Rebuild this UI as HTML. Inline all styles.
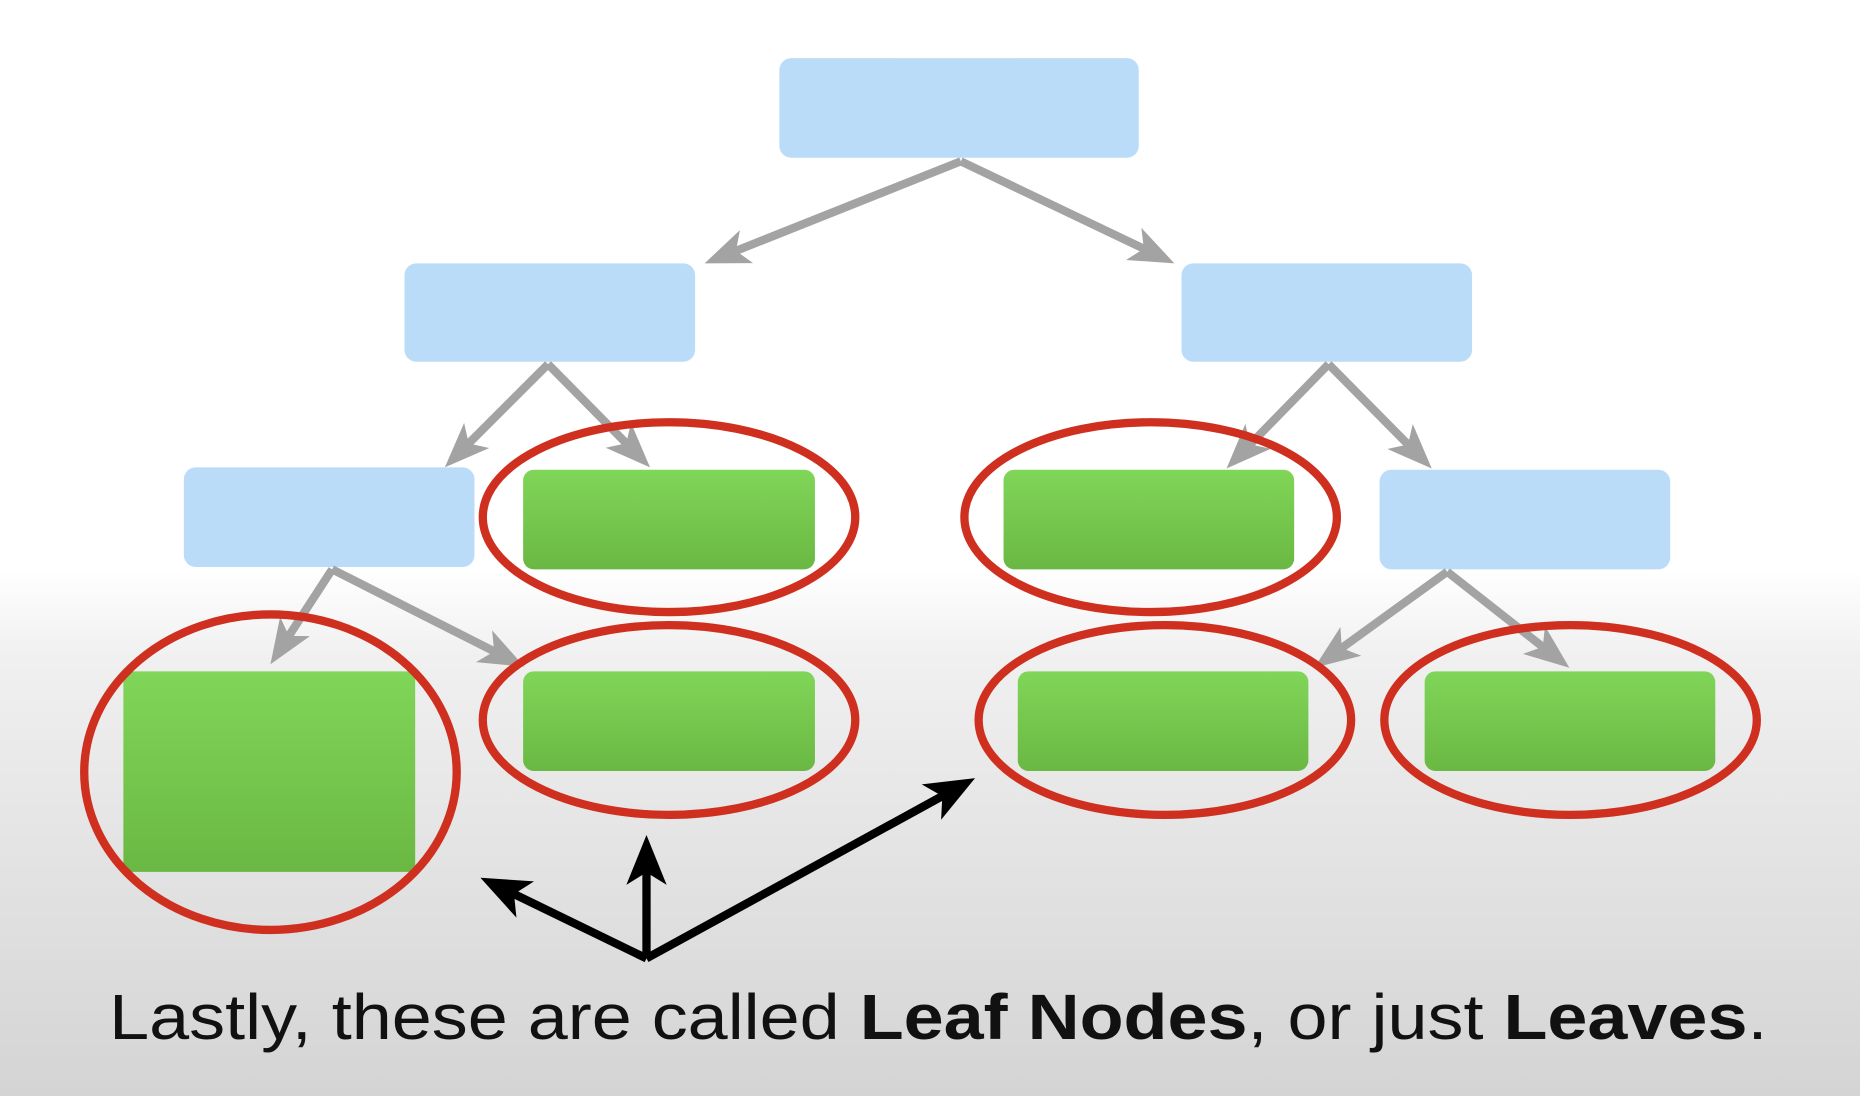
<!DOCTYPE html>
<html><head><meta charset="utf-8"><style>
html,body{margin:0;padding:0;width:1860px;height:1096px;overflow:hidden;}
svg{display:block}
</style></head><body>
<svg id="s" width="1860" height="1096" viewBox="0 0 1568 924" preserveAspectRatio="none" xmlns="http://www.w3.org/2000/svg">
<defs>
<linearGradient id="bg" x1="0" y1="0" x2="0" y2="1">
<stop offset="0" stop-color="#ffffff"/>
<stop offset="0.52" stop-color="#ffffff"/>
<stop offset="0.6" stop-color="#f0f0f0"/>
<stop offset="1" stop-color="#d4d4d4"/>
</linearGradient>
<linearGradient id="gr" x1="0" y1="0" x2="0" y2="1">
<stop offset="0" stop-color="#80d658"/>
<stop offset="1" stop-color="#6ab843"/>
</linearGradient>
</defs>
<rect width="1568" height="924" fill="url(#bg)"/>
<g fill="#bbdcf9">
<rect x="657" y="49" width="303" height="84" rx="10"/>
<rect x="341" y="222" width="245" height="83" rx="10"/>
<rect x="996" y="222" width="245" height="83" rx="10"/>
<rect x="155" y="394" width="245" height="84" rx="10"/>
<rect x="1163" y="396" width="245" height="84" rx="10"/>
</g>
<g fill="url(#gr)">
<rect x="441" y="396" width="246" height="84" rx="9"/>
<rect x="846" y="396" width="245" height="84" rx="9"/>
<rect x="104" y="566" width="246" height="169" rx="4"/>
<rect x="441" y="566" width="246" height="84" rx="9"/>
<rect x="858" y="566" width="245" height="84" rx="9"/>
<rect x="1201" y="566" width="245" height="84" rx="9"/>
</g>
<g id="arr"></g>
<g stroke="#cf2f1f" stroke-width="7" fill="none">
<ellipse cx="564" cy="436" rx="157" ry="80"/>
<ellipse cx="970" cy="436" rx="157" ry="80"/>
<ellipse cx="228" cy="651" rx="157" ry="133"/>
<ellipse cx="564" cy="607" rx="157" ry="80"/>
<ellipse cx="982" cy="607" rx="157" ry="80"/>
<ellipse cx="1324" cy="607" rx="157" ry="80"/>
</g>
<g id="arr2"></g>
<text x="92" y="876" font-family="Liberation Sans, sans-serif" font-size="54" fill="#111" textLength="1398" lengthAdjust="spacingAndGlyphs">Lastly, these are called <tspan font-weight="bold">Leaf Nodes</tspan>, or just <tspan font-weight="bold">Leaves</tspan>.</text>
</svg>
<script>
function arrow(g,x1,y1,x2,y2,col,w,L,H){
 var dx=x2-x1,dy=y2-y1,d=Math.hypot(dx,dy),ux=dx/d,uy=dy/d,px=-uy,py=ux;
 var bx=x2-ux*L,by=y2-uy*L, nx=x2-ux*(L*0.75),ny=y2-uy*(L*0.75);
 var ns="http://www.w3.org/2000/svg";
 var l=document.createElementNS(ns,"line");
 l.setAttribute("x1",x1);l.setAttribute("y1",y1);l.setAttribute("x2",nx+ux*2);l.setAttribute("y2",ny+uy*2);
 l.setAttribute("stroke",col);l.setAttribute("stroke-width",w);g.appendChild(l);
 var p=document.createElementNS(ns,"polygon");
 p.setAttribute("points",[x2,y2,bx+px*H,by+py*H,nx,ny,bx-px*H,by-py*H].join(","));
 p.setAttribute("fill",col);g.appendChild(p);
}
var g=document.getElementById("arr");
[[810,136,594,222],[810,136,990,222],[462,307,375,394],[462,307,548,394],
 [1120,307,1034,395],[1120,307,1207,395],[280,480,228,560],[280,480,442,562],
 [1220,482,1108,563],[1220,482,1323,563]].forEach(function(a){arrow(g,a[0],a[1],a[2],a[3],"#a3a3a3",7,38,15);});
var g2=document.getElementById("arr2");
[[545,808,405,740],[545,808,545,704],[545,808,822,656]].forEach(function(a){arrow(g2,a[0],a[1],a[2],a[3],"#000",7,42,17);});
</script>
</body></html>
